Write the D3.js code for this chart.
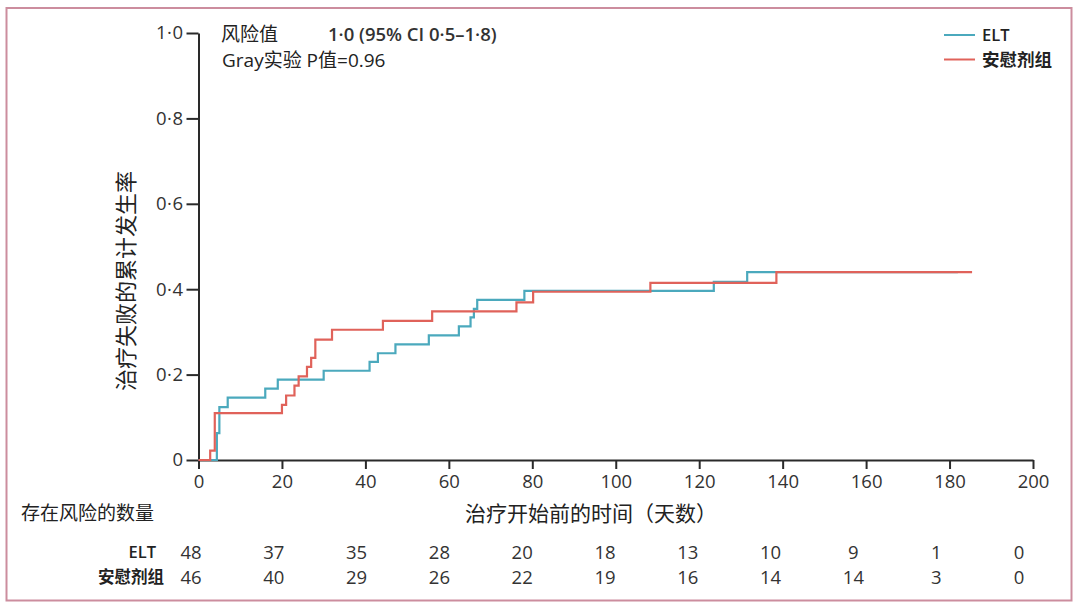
<!DOCTYPE html>
<html>
<head>
<meta charset="utf-8">
<script src="https://cdn.jsdelivr.net/npm/d3@7"></script>
<style>
  html, body { margin: 0; padding: 0; background: #fff; }
  svg text { font-family: "Open Sans", "Noto Sans CJK SC", sans-serif; }
</style>
</head>
<body>
<svg id="chart" width="1080" height="611"></svg>
<script>
// ---- data ----
const eltTimes    = [0, 4.4, 5, 7, 16, 19, 30, 41, 43, 47.2, 55.2, 62.4, 65.2, 66, 66.8, 78.1, 123.5, 131.5, 182];
const eltValues   = [0, 0.063, 0.124, 0.146, 0.167, 0.188, 0.209, 0.23, 0.25, 0.271, 0.292, 0.313, 0.334, 0.354, 0.375, 0.396, 0.417, 0.44, 0.44];
const placeboTimes  = [0, 2.8, 3.9, 20, 21, 23, 24, 26, 27, 28, 32, 44.2, 56, 76.2, 80.2, 108.3, 138.5, 185.4];
const placeboValues = [0, 0.022, 0.11, 0.129, 0.151, 0.174, 0.196, 0.218, 0.239, 0.282, 0.305, 0.326, 0.348, 0.369, 0.394, 0.415, 0.44, 0.44];
const xTicks = [0, 20, 40, 60, 80, 100, 120, 140, 160, 180, 200];
const yTicks = [0, 0.2, 0.4, 0.6, 0.8, 1.0];
const yTickLabels = ["0", "0·2", "0·4", "0·6", "0·8", "1·0"];
const seriesNames = ["ELT", "安慰剂组"];
const riskELT     = [48, 37, 35, 28, 20, 18, 13, 10, 9, 1, 0];
const riskPlacebo = [46, 40, 29, 26, 22, 19, 16, 14, 14, 3, 0];

// ---- setup ----
const svg = d3.select("#chart");
const colors = ["#4ba9bd", "#e0625a"];
const x = d3.scaleLinear().domain([0, 200]).range([198.5, 1033]);
const y = d3.scaleLinear().domain([0, 1]).range([460, 33]);
const xTable = d3.scaleLinear().domain([0, 200]).range([191, 1019]);

// frame
svg.append("rect").attr("x", 6.5).attr("y", 8).attr("width", 1065).attr("height", 592.5)
  .attr("fill", "none").attr("stroke", "#cc8d9e").attr("stroke-width", 2);

// axes
const yAxis = svg.append("g").attr("transform", `translate(${x(0)},0)`)
  .call(d3.axisLeft(y).tickValues(yTicks).tickFormat((d, i) => yTickLabels[i]).tickSize(12).tickSizeOuter(0).tickPadding(3));
const xAxis = svg.append("g").attr("transform", `translate(0,${y(0)})`)
  .call(d3.axisBottom(x).tickValues(xTicks).tickFormat(d3.format("d")).tickSize(9).tickSizeOuter(0).tickPadding(6));
[yAxis, xAxis].forEach(a => {
  a.selectAll("path, line").attr("stroke", "#2a2a2a").attr("stroke-width", 2);
  a.selectAll("text").attr("fill", "#333").style("font-size", "18.5px");
});
yAxis.selectAll("text").style("letter-spacing", "0.5px");

// curves
const line = d3.line().curve(d3.curveStepAfter).x(d => x(d[0])).y(d => y(d[1]));
const eltData = eltTimes.map((t, i) => [t, eltValues[i]]);
const placeboData = placeboTimes.map((t, i) => [t, placeboValues[i]]);
[eltData, placeboData].forEach((data, i) => {
  svg.append("path").datum(data).attr("d", line)
    .attr("fill", "none").attr("stroke", colors[i]).attr("stroke-width", 2.2);
});

// legend
seriesNames.forEach((name, i) => {
  const ly = 35 + i * 24.5;
  svg.append("line").attr("x1", 944).attr("x2", 975).attr("y1", ly).attr("y2", ly)
    .attr("stroke", colors[i]).attr("stroke-width", 2);
  svg.append("text").attr("x", 982).attr("y", ly).attr("dy", "0.36em")
    .style("font-size", i === 0 ? "16.5px" : "17.5px").style("font-weight", 600).attr("fill", "#222").text(name);
});

// annotation
svg.append("text").attr("x", 221).attr("y", 34).attr("dy", "0.36em")
  .style("font-size", "19px").attr("fill", "#222").text("风险值");
svg.append("text").attr("x", 328).attr("y", 34).attr("dy", "0.36em")
  .style("font-size", "18.5px").style("font-weight", 600).attr("fill", "#333").text("1·0 (95% CI 0·5–1·8)");
svg.append("text").attr("x", 222).attr("y", 60).attr("dy", "0.36em")
  .style("font-size", "19px").attr("fill", "#222").text("Gray实验 P值=0.96");

// axis titles
svg.append("text").attr("transform", "translate(126,281) rotate(-90)")
  .attr("text-anchor", "middle").attr("dy", "0.36em")
  .style("font-size", "22px").attr("fill", "#222").text("治疗失败的累计发生率");
svg.append("text").attr("x", 591).attr("y", 513).attr("text-anchor", "middle").attr("dy", "0.36em")
  .style("font-size", "21px").attr("fill", "#222").text("治疗开始前的时间（天数）");
svg.append("text").attr("x", 21).attr("y", 513).attr("dy", "0.36em")
  .style("font-size", "19px").attr("fill", "#222").text("存在风险的数量");

// risk table
[riskELT, riskPlacebo].forEach((row, i) => {
  const ry = 552 + i * 25;
  svg.append("text").attr("x", i === 0 ? 156 : 164).attr("y", ry).attr("dy", "0.36em").attr("text-anchor", "end")
    .style("font-size", "16.5px").style("font-weight", 600).attr("fill", "#222").text(seriesNames[i]);
  svg.append("g").selectAll("text").data(row).join("text")
    .attr("x", (d, j) => xTable(xTicks[j])).attr("y", ry).attr("dy", "0.36em")
    .attr("text-anchor", "middle").style("font-size", "18.5px").attr("fill", "#333").text(d => d);
});
</script>
</body>
</html>
